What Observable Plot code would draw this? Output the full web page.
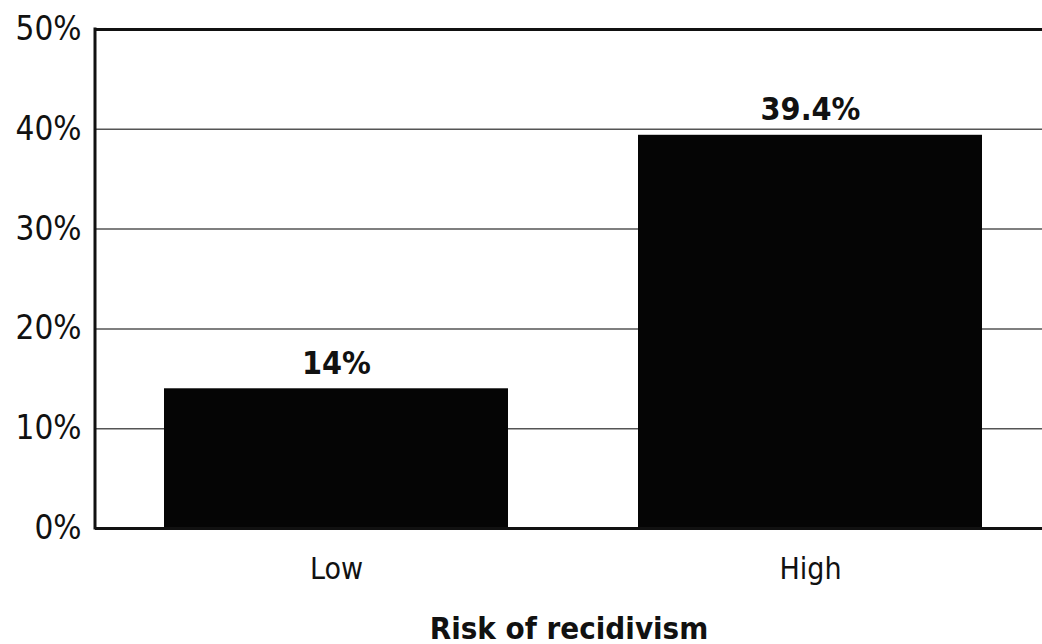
<!DOCTYPE html>
<html>
<head>
<meta charset="utf-8">
<script src="https://cdn.jsdelivr.net/npm/d3@7"></script>
<script src="https://cdn.jsdelivr.net/npm/@observablehq/plot@0.6"></script>
<style>
  html, body { margin: 0; padding: 0; background: #fff; }
  svg { display: block; }
</style>
</head>
<body>
<div id="chart"></div>
<script>
const categories = ["Low", "High"];
const values = [14, 39.4];
const valueLabels = ["14%", "39.4%"];
const yTicks = [0, 10, 20, 30, 40, 50];
const gridTicks = [10, 20, 30, 40];
const axisTitle = "Risk of recidivism";

const data = categories.map((c, i) => ({ cat: c, value: values[i], label: valueLabels[i] }));
const FONT = "'Liberation Sans Narrow', 'DejaVu Sans Condensed', 'Liberation Sans', sans-serif";

// left axis line drawn from the y scale's range
const leftAxisLine = (index, scales, values, dimensions) => {
  const [y0, y1] = [scales.y(0), scales.y(50)];
  const x = dimensions.marginLeft;
  return d3.create("svg:line")
    .attr("x1", x).attr("x2", x)
    .attr("y1", y0 + 1.5).attr("y2", y1 - 1.5)
    .attr("stroke", "#111").attr("stroke-width", 3)
    .node();
};

const chart = Plot.plot({
  width: 1042,
  height: 644,
  marginLeft: 95,
  marginRight: 0,
  marginTop: 29,
  marginBottom: 116,
  style: { fontFamily: FONT, background: "#fff", color: "#111" },
  x: { domain: categories, paddingInner: 0.275, paddingOuter: 0.135, align: 0.53 },
  y: { domain: [0, 50] },
  marks: [
    Plot.ruleY(gridTicks, { stroke: "#555", strokeWidth: 1.5 }),
    Plot.ruleY([50], { stroke: "#111", strokeWidth: 3 }),
    Plot.barY(data, { x: "cat", y: "value", fill: "#050505" }),
    Plot.ruleY([0], { stroke: "#111", strokeWidth: 3 }),
    leftAxisLine,
    Plot.axisY({ ticks: yTicks, tickFormat: d => d + "%", tickSize: 0, tickPadding: 14, fontSize: 33, label: null, fill: "#111" }),
    Plot.axisX({ tickSize: 0, tickPadding: 29, fontSize: 30, label: null, fill: "#111" }),
    Plot.text(data, { x: "cat", y: "value", text: "label", lineAnchor: "bottom", dy: -15, fontSize: 32, fontWeight: "bold", fill: "#111" }),
    Plot.text([axisTitle], { frameAnchor: "bottom", lineAnchor: "bottom", dy: 110, fontSize: 31, fontWeight: "bold", fill: "#111" })
  ]
});
document.getElementById("chart").appendChild(chart);
</script>
</body>
</html>
